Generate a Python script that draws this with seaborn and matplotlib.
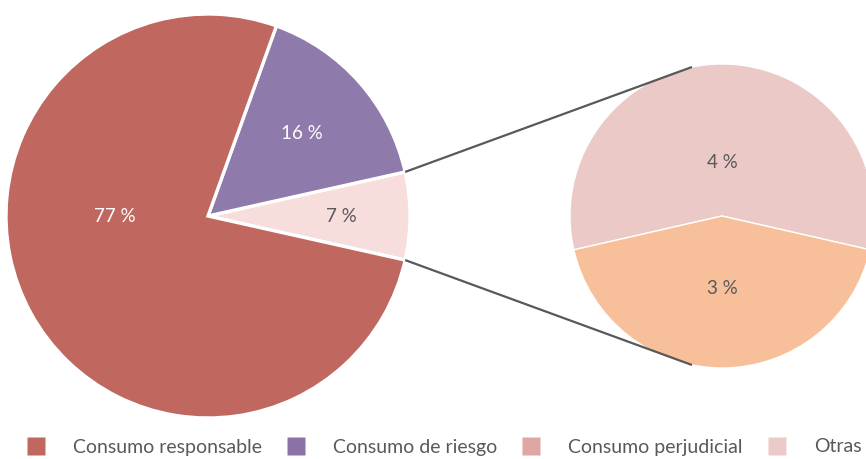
import matplotlib
matplotlib.use("Agg")
import matplotlib.pyplot as plt
from matplotlib.lines import Line2D
import seaborn as sns
import numpy as np

# Data
main_labels = ["Consumo perjudicial", "Consumo de riesgo", "Consumo responsable"]
main_values = [7, 16, 77]
main_text = ["7 %", "16 %", "77 %"]
main_colors = ["#F8DDDD", "#8E7AAB", "#C0685F"]

sub_values = [4, 3]
sub_text = ["4 %", "3 %"]
sub_colors = ["#EAC9C7", "#F8C09A"]

legend_labels = ["Consumo responsable", "Consumo de riesgo", "Consumo perjudicial", "Otras"]
legend_colors = ["#C0685F", "#8B72A6", "#DFA7A3", "#EBCAC8"]

sns.set_theme(style="white")
plt.rcParams["font.family"] = ["Lato", "DejaVu Sans"]

W, H = 866, 459
fig = plt.figure(figsize=(W / 100, H / 100), dpi=100)
ax = fig.add_axes([0, 0, 1, 1])

# main pie
c1 = (208, H - 216)
r1 = 202
half = main_values[0] / sum(main_values) * 360 / 2
ax.pie(main_values, colors=main_colors, startangle=-half, counterclock=True,
       center=c1, radius=r1, frame=True,
       wedgeprops=dict(edgecolor="white", linewidth=2.4))

# sub pie
c2 = (722, H - 216)
r2 = 152
sub_half = sub_values[0] / sum(sub_values) * 360 / 2
ax.pie(sub_values, colors=sub_colors, startangle=90 - sub_half, counterclock=True,
       center=c2, radius=r2, frame=True,
       wedgeprops=dict(edgecolor="white", linewidth=1.0))

# labels main
lab_pos = [(0, 0.66, "#595959"), (41.4, 0.62, "white"), (180, 0.46, "white")]
for t, (ang, d, col) in zip(main_text, lab_pos):
    a = np.deg2rad(ang)
    ax.text(c1[0] + d * r1 * np.cos(a), c1[1] + d * r1 * np.sin(a), t,
            ha="center", va="center", color=col, fontsize=13.5)

sub_pos = [(90, 0.35), (270, 0.48)]
for t, (ang, d) in zip(sub_text, sub_pos):
    a = np.deg2rad(ang)
    ax.text(c2[0] + d * r2 * np.cos(a), c2[1] + d * r2 * np.sin(a), t,
            ha="center", va="center", color="#595959", fontsize=13.5)

# connector lines
for s in (1, -1):
    a1 = np.deg2rad(s * half)
    a2 = np.deg2rad(s * 101.4)
    p1 = (c1[0] + r1 * np.cos(a1), c1[1] + r1 * np.sin(a1))
    p2 = (c2[0] + r2 * np.cos(a2), c2[1] + r2 * np.sin(a2))
    ax.plot([p1[0], p2[0]], [p1[1], p2[1]], color="#595959", linewidth=1.6,
            solid_capstyle="butt", zorder=5)

ax.set_xlim(0, W)
ax.set_ylim(0, H)
ax.set_aspect("equal")
ax.axis("off")

handles = [Line2D([], [], marker="s", linestyle="none", markersize=13.5,
                  markerfacecolor=c, markeredgecolor="none") for c in legend_colors]
leg = fig.legend(handles, legend_labels, loc="center", bbox_to_anchor=(0.513, 1 - 447 / H),
                 ncol=4, frameon=False, fontsize=14, handlelength=0.9,
                 handletextpad=1.45, columnspacing=1.3, borderaxespad=0)
for t in leg.get_texts():
    t.set_color("#595959")

fig.savefig("out.png", dpi=100)
